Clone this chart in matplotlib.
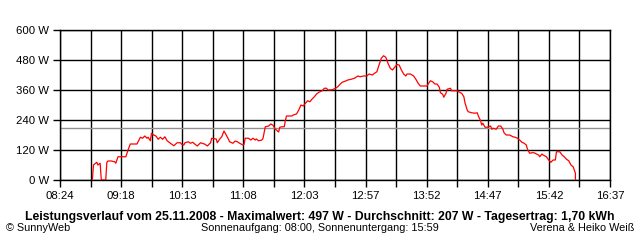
#!/usr/bin/env python
"""Tagesverlauf der PV-Leistung (SunnyWeb) vom 25.11.2008"""

import matplotlib
matplotlib.use("Agg")
import matplotlib.pyplot as plt
import numpy as np

plt.rcParams['font.family'] = ['Liberation Sans', 'DejaVu Sans']

times = [
    "08:53", "08:54", "08:57", "08:58", "09:00", "09:01", "09:05", "09:06", "09:07", "09:10",
    "09:13", "09:14", "09:15", "09:16", "09:23", "09:25", "09:27", "09:33", "09:34", "09:36",
    "09:38", "09:40", "09:42", "09:43", "09:45", "09:46", "09:48", "09:50", "09:52", "09:54",
    "09:56", "09:58", "10:00", "10:03", "10:06", "10:09", "10:12", "10:13", "10:15", "10:16",
    "10:19", "10:21", "10:23", "10:25", "10:27", "10:30", "10:32", "10:34", "10:36", "10:39",
    "10:40", "10:44", "10:45", "10:47", "10:49", "10:51", "10:53", "10:55", "10:56", "10:59",
    "11:01", "11:03", "11:05", "11:08", "11:09", "11:10", "11:13", "11:15", "11:17", "11:19",
    "11:20", "11:22", "11:25", "11:26", "11:28", "11:31", "11:33", "11:35", "11:36", "11:37",
    "11:38", "11:40", "11:41", "11:43", "11:45", "11:46", "11:47", "11:52", "11:53", "11:56",
    "11:58", "12:00", "12:02", "12:04", "12:06", "12:08", "12:10", "12:12", "12:14", "12:16",
    "12:19", "12:21", "12:23", "12:24", "12:28", "12:31", "12:33", "12:35", "12:37", "12:40",
    "12:42", "12:45", "12:48", "12:51", "12:53", "12:56", "12:59", "13:01", "13:04", "13:06",
    "13:08", "13:10", "13:12", "13:14", "13:16", "13:18", "13:20", "13:22", "13:24", "13:26",
    "13:28", "13:30", "13:32", "13:34", "13:35", "13:38", "13:41", "13:43", "13:45", "13:47",
    "13:53", "13:54", "13:56", "13:58", "14:00", "14:02", "14:04", "14:05", "14:07", "14:08",
    "14:10", "14:11", "14:14", "14:15", "14:20", "14:23", "14:24", "14:26", "14:27", "14:29",
    "14:30", "14:33", "14:36", "14:38", "14:39", "14:41", "14:42", "14:43", "14:45", "14:47",
    "14:50", "14:51", "14:52", "14:55", "14:57", "14:59", "15:01", "15:02", "15:04", "15:07",
    "15:10", "15:12", "15:14", "15:16", "15:18", "15:20", "15:22", "15:23", "15:25", "15:27",
    "15:29", "15:31", "15:33", "15:34", "15:36", "15:37", "15:40", "15:42", "15:44", "15:46",
    "15:48", "15:49", "15:52", "15:54", "15:56", "15:58", "16:00", "16:02", "16:04", "16:06",
    "16:06",
]
watts = [
    0, 60, 71, 60, 67, 0, 0, 71, 76, 76,
    73, 67, 80, 93, 93, 120, 144, 144, 153, 171,
    167, 176, 167, 171, 157, 187, 180, 176, 163, 171,
    163, 173, 157, 147, 137, 149, 149, 143, 140, 149,
    153, 147, 151, 143, 136, 149, 146, 143, 136, 149,
    167, 164, 149, 163, 173, 196, 180, 163, 153, 147,
    156, 153, 147, 140, 143, 167, 167, 160, 167, 160,
    164, 157, 160, 167, 213, 216, 224, 219, 211, 203,
    200, 192, 211, 213, 213, 237, 256, 256, 260, 264,
    280, 300, 296, 307, 317, 313, 324, 333, 344, 351,
    357, 367, 367, 360, 361, 367, 373, 383, 391, 396,
    400, 403, 407, 416, 413, 416, 416, 424, 420, 427,
    433, 460, 487, 497, 491, 467, 447, 440, 451, 462,
    460, 440, 424, 416, 424, 424, 416, 403, 387, 376,
    376, 384, 397, 393, 384, 384, 371, 349, 343, 331,
    347, 363, 367, 357, 357, 349, 347, 333, 309, 280,
    273, 269, 267, 269, 256, 237, 220, 227, 211, 211,
    216, 203, 207, 203, 216, 216, 203, 189, 180, 180,
    173, 171, 167, 160, 151, 147, 140, 123, 107, 109,
    109, 104, 100, 93, 104, 100, 93, 80, 71, 80,
    80, 113, 113, 100, 93, 83, 77, 60, 53, 27,
    0,
]

x_labels = ["08:24", "09:18", "10:13", "11:08", "12:03", "12:57", "13:52", "14:47", "15:42", "16:37"]
y_ticks = [0, 120, 240, 360, 480, 600]

DATUM = "25.11.2008"
MAX_W = 497
AVERAGE_W = 207
ERTRAG_KWH = "1,70"
SUNRISE = "08:00"
SUNSET = "15:59"


def to_min(s):
    h, m = s.split(":")
    return int(h) * 60 + int(m)


t = np.array([to_min(s) for s in times])
w = np.array(watts)

t0, t1 = to_min(x_labels[0]), to_min(x_labels[-1])

fig = plt.figure(figsize=(6.4, 2.4), dpi=100)
ax = fig.add_axes([60 / 640, 1 - 180 / 240, 550 / 640, 150 / 240])

ax.plot(t, w, color='#ff0000', lw=0.9, zorder=3)
ax.axhline(AVERAGE_W, color='#909090', lw=1.0, zorder=2)

ax.set_xlim(t0, t1)
ax.set_ylim(y_ticks[0], y_ticks[-1])

major = np.linspace(t0, t1, len(x_labels))
minor = np.linspace(t0, t1, 2 * len(x_labels) - 1)
ax.set_xticks(major)
ax.set_xticklabels(x_labels)
ax.set_xticks(minor, minor=True)
ax.set_yticks(y_ticks)
ax.set_yticklabels([f"{v} W" for v in y_ticks])

ax.grid(True, which='both', color='black', lw=1.0, zorder=1)
ax.set_axisbelow(True)
ax.tick_params(which='both', length=5, width=1.0, color='black', labelsize=8.2, pad=3)

for sp in ax.spines.values():
    sp.set_color('black')
    sp.set_linewidth(1.0)

small = 7.8
fig.text(0.5, 1 - 217 / 240,
         f"Leistungsverlauf vom {DATUM} - Maximalwert: {MAX_W} W - Durchschnitt: {AVERAGE_W} W"
         f" - Tagesertrag: {ERTRAG_KWH} kWh",
         ha='center', va='center', fontsize=8.8, fontweight='bold')
fig.text(6 / 640, 1 - 228 / 240, "© SunnyWeb", ha='left', va='center', fontsize=small)
fig.text(0.5, 1 - 228 / 240, f"Sonnenaufgang: {SUNRISE}, Sonnenuntergang: {SUNSET}",
         ha='center', va='center', fontsize=small)
fig.text(634 / 640, 1 - 228 / 240, "Verena & Heiko Weiß", ha='right', va='center', fontsize=small)

fig.savefig("out.png", dpi=100)
